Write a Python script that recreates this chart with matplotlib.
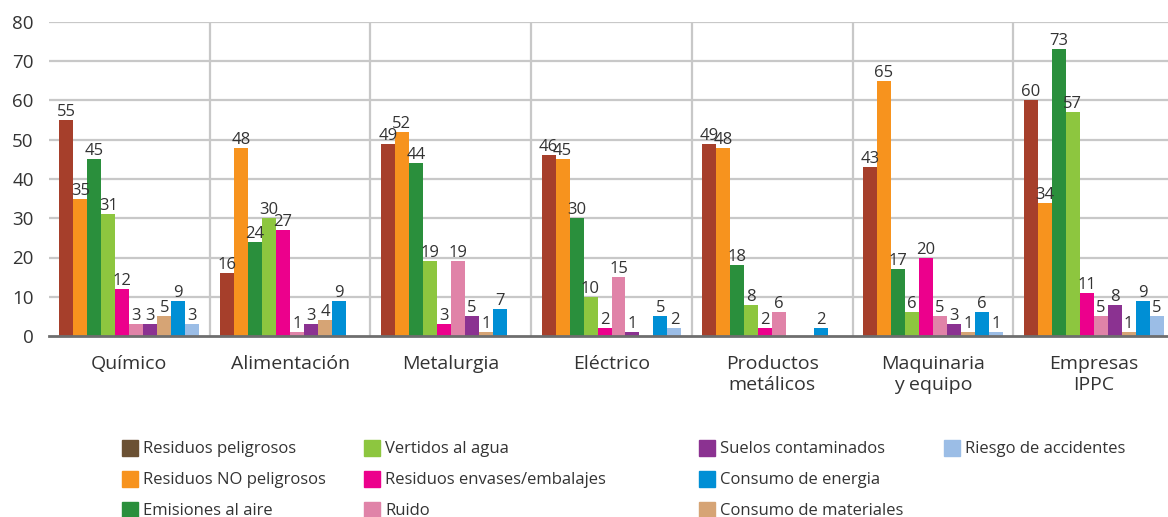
import matplotlib
matplotlib.use("Agg")
import matplotlib.pyplot as plt
from matplotlib.patches import Rectangle
import numpy as np

plt.rcParams['font.family'] = ['Open Sans', 'DejaVu Sans']

categories = ["Químico", "Alimentación", "Metalurgia", "Eléctrico",
              "Productos\nmetálicos", "Maquinaria\ny equipo", "Empresas\nIPPC"]

series_names = ["Residuos peligrosos", "Residuos NO peligrosos", "Emisiones al aire",
                "Vertidos al agua", "Residuos envases/embalajes", "Ruido",
                "Suelos contaminados", "Consumo de materiales", "Consumo de energia",
                "Riesgo de accidentes"]

residuos_peligrosos = [55, 16, 49, 46, 49, 43, 60]
residuos_no_peligrosos = [35, 48, 52, 45, 48, 65, 34]
emisiones_aire = [45, 24, 44, 30, 18, 17, 73]
vertidos_agua = [31, 30, 19, 10, 8, 6, 57]
residuos_envases = [12, 27, 3, 2, 2, 20, 11]
ruido = [3, 1, 19, 15, 6, 5, 5]
suelos = [3, 3, 5, 1, 0, 3, 8]
consumo_materiales = [5, 4, 1, 0, 0, 1, 1]
consumo_energia = [9, 9, 7, 5, 2, 6, 9]
riesgo_accidentes = [3, 0, 0, 2, 0, 1, 5]

values = [residuos_peligrosos, residuos_no_peligrosos, emisiones_aire, vertidos_agua,
          residuos_envases, ruido, suelos, consumo_materiales, consumo_energia,
          riesgo_accidentes]

bar_colors = ["#A63F2B", "#F7931E", "#2A8F3C", "#8DC63F", "#EC008C", "#E083A8",
              "#8B3291", "#D6A475", "#008FD5", "#9BBDE6"]
legend_colors = ["#6B5134"] + bar_colors[1:]

fig = plt.figure(figsize=(11.68, 5.17), dpi=100)
ax = fig.add_axes([49/1168, 1-336/517, (1174-49)/1168, (336-22)/517])

n = len(series_names)
bw = 0.087
x = np.arange(len(categories))
text_color = "#333333"
for i in range(n):
    offs = (i - (n - 1) / 2) * bw
    vals = np.array(values[i], dtype=float)
    xs = x + offs
    mask = vals > 0
    ax.bar(xs[mask], vals[mask], width=bw, color=bar_colors[i], zorder=3, linewidth=0)
    for xx, v in zip(xs[mask], vals[mask]):
        ax.annotate(f"{int(v)}", (xx, v), xytext=(0, 0), textcoords="offset points",
                    ha="center", va="bottom", fontsize=12, color=text_color, zorder=4)

ax.set_xlim(-0.5, len(categories) - 0.5)
ax.set_ylim(0, 80)
ax.set_yticks(np.arange(0, 81, 10))
ax.set_xticks(x)
ax.set_xticklabels(categories, fontsize=14, color=text_color, linespacing=1.2)
ax.tick_params(axis='x', length=0, pad=14)
ax.tick_params(axis='y', length=0, pad=11, labelsize=13.5, labelcolor=text_color)

for y in range(10, 81, 10):
    ax.axhline(y, color="#C8C8C8", lw=1.6, zorder=1)
for b in np.arange(0.5, len(categories) - 0.5, 1):
    ax.axvline(b, color="#C8C8C8", lw=1.6, zorder=1)

for s in ["top", "right", "left"]:
    ax.spines[s].set_visible(False)
ax.spines["bottom"].set_color("#6E6E6E")
ax.spines["bottom"].set_linewidth(2)
ax.spines["bottom"].set_zorder(5)

# legend (manual layout to match uneven columns)
legend_order = [0, 1, 2, 3, 4, 5, 6, 8, 7, 9]
col_x = [122, 364, 699, 944]
row_y = [448, 479, 510]
for k, idx in enumerate(legend_order):
    c = k // 3
    r = k % 3
    xpx, ypx = col_x[c], row_y[r]
    fig.patches.append(Rectangle((xpx / 1168, 1 - (ypx + 8) / 517), 16 / 1168, 16 / 517,
                                 transform=fig.transFigure, color=legend_colors[idx],
                                 figure=fig))
    fig.text((xpx + 21) / 1168, 1 - (ypx + 1) / 517, series_names[idx], fontsize=12,
             color=text_color, va="center", ha="left")

fig.savefig("out.png", dpi=100)
